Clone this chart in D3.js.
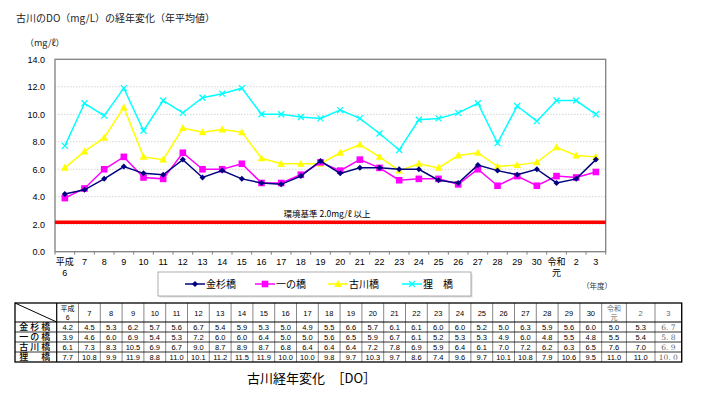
<!DOCTYPE html>
<html><head><meta charset="utf-8">
<script src="https://cdn.jsdelivr.net/npm/d3@7/dist/d3.min.js"></script>
<style>body{margin:0;background:#fff}svg{display:block}</style>
</head><body>
<svg id="c" width="701" height="399"></svg>
<script>
const years = ["平成\n6","7","8","9","10","11","12","13","14","15","16","17","18","19","20","21","22","23","24","25","26","27","28","29","30","令和\n元","2","3"];
const kanasugi = [4.2,4.5,5.3,6.2,5.7,5.6,6.7,5.4,5.9,5.3,5.0,4.9,5.5,6.6,5.7,6.1,6.1,6.0,6.0,5.2,5.0,6.3,5.9,5.6,6.0,5.0,5.3,6.7];
const ichinohashi = [3.9,4.6,6.0,6.9,5.4,5.3,7.2,6.0,6.0,6.4,5.0,5.0,5.6,6.5,5.9,6.7,6.1,5.2,5.3,5.3,4.9,6.0,4.8,5.5,4.8,5.5,5.4,5.8];
const furukawa = [6.1,7.3,8.3,10.5,6.9,6.7,9.0,8.7,8.9,8.7,6.8,6.4,6.4,6.4,7.2,7.8,6.9,5.9,6.4,6.1,7.0,7.2,6.2,6.3,6.5,7.6,7.0,6.9];
const tanuki = [7.7,10.8,9.9,11.9,8.8,11.0,10.1,11.2,11.5,11.9,10.0,10.0,9.8,9.7,10.3,9.7,8.6,7.4,9.6,9.7,10.1,10.8,7.9,10.6,9.5,11.0,11.0,10.0];
const seriesNames = ["金杉橋","一の橋","古川橋","狸　橋"];
const yTicks = [0,2,4,6,8,10,12,14];
const standardValue = 2.15;
const standardLabel = "環境基準  2.0mg/ℓ  以上";

const series = [
  {name:seriesNames[0], values:kanasugi, color:"#000080", sym:"diamond"},
  {name:seriesNames[1], values:ichinohashi, color:"#ff00ff", sym:"square"},
  {name:seriesNames[2], values:furukawa, color:"#ffff00", sym:"triangle"},
  {name:seriesNames[3], values:tanuki, color:"#00ffff", sym:"x"}
];

const svg = d3.select("#c");
const FONT = "'Liberation Sans', Arial, 'Noto Sans CJK JP', sans-serif";
const JP = "'Noto Sans CJK JP', sans-serif";

const L=55, R=605.7, T=59.3, B=251.7;
const x = d3.scalePoint().domain(d3.range(years.length)).range([L,R]).padding(0.5);
const y = d3.scaleLinear().domain([0,14]).range([B,T]);
const step = x.step();

// title
svg.append("text").attr("x",16).attr("y",22).attr("font-family",JP).attr("font-size",10).attr("fill","#222")
  .text("古川のDO（mg/L）の経年変化（年平均値）");
svg.append("text").attr("x",25).attr("y",46).attr("font-family",JP).attr("font-size",9).attr("fill","#222")
  .text("（mg/ℓ）");

// grid
svg.append("g").selectAll("line").data(yTicks.filter(d=>d>0&&d<14)).join("line")
  .attr("x1",L).attr("x2",R).attr("y1",d=>y(d)).attr("y2",d=>y(d))
  .attr("stroke","#c8c8c8").attr("stroke-width",0.8).attr("stroke-dasharray","1.5,1.5");

// y axis labels
const yAxis = d3.axisLeft(y).tickValues(yTicks).tickFormat(d3.format(".1f")).tickSize(0).tickPadding(10);
const gy = svg.append("g").attr("transform",`translate(${L},0)`).call(yAxis);
gy.select(".domain").remove();
gy.selectAll("text").attr("font-family",FONT).attr("font-size",9).attr("fill","#000");

// plot frame
svg.append("rect").attr("x",L).attr("y",T).attr("width",R-L).attr("height",B-T)
  .attr("fill","none").attr("stroke","#808080").attr("stroke-width",1.3);

// x ticks
svg.append("g").selectAll("line").data(d3.range(years.length+1)).join("line")
  .attr("x1",i=>L+i*step).attr("x2",i=>L+i*step).attr("y1",B).attr("y2",B+3)
  .attr("stroke","#808080");
const xl = svg.append("g").selectAll("text").data(years).join("text")
  .attr("x",(d,i)=>x(i)).attr("y",265).attr("text-anchor","middle")
  .attr("font-family",FONT).attr("font-size",9).attr("fill","#000");
xl.each(function(d){
  const parts=d.split("\n"); const t=d3.select(this);
  parts.forEach((p,k)=>t.append("tspan").attr("x",t.attr("x")).attr("dy",k?11:0).text(p));
});
svg.append("text").attr("x",597).attr("y",289).attr("text-anchor","middle").attr("font-family",JP)
  .attr("font-size",7.5).attr("fill","#333").text("（年度）");

// standard line
svg.append("line").attr("x1",L).attr("x2",R).attr("y1",y(standardValue)).attr("y2",y(standardValue))
  .attr("stroke","#ff0000").attr("stroke-width",3.5);
svg.append("text").attr("x",327).attr("y",y(standardValue)-5).attr("text-anchor","middle")
  .attr("font-family",JP).attr("font-size",8.5).attr("fill","#000").text(standardLabel);

function marker(g, sym, color, cx, cy){
  if(sym==="diamond"){
    g.append("path").attr("d",`M${cx},${cy-3}L${cx+3},${cy}L${cx},${cy+3}L${cx-3},${cy}Z`).attr("fill",color);
  } else if(sym==="square"){
    g.append("rect").attr("x",cx-3.3).attr("y",cy-3.3).attr("width",6.6).attr("height",6.6).attr("fill",color);
  } else if(sym==="triangle"){
    g.append("path").attr("d",`M${cx},${cy-4}L${cx+3.8},${cy+3}L${cx-3.8},${cy+3}Z`).attr("fill",color);
  } else {
    g.append("path").attr("d",`M${cx-3},${cy-3}L${cx+3},${cy+3}M${cx-3},${cy+3}L${cx+3},${cy-3}`)
      .attr("stroke",color).attr("stroke-width",1.3);
  }
}

const line = d3.line().x((d,i)=>x(i)).y(d=>y(d));
[3,2,1,0].forEach(k=>{
  const s=series[k];
  const g=svg.append("g");
  g.append("path").attr("d",line(s.values)).attr("fill","none").attr("stroke",s.color).attr("stroke-width",1.5);
  s.values.forEach((v,i)=>marker(g,s.sym,s.color,x(i),y(v)));
});

// legend
svg.append("rect").attr("x",159.5).attr("y",273.5).attr("width",313).attr("height",24).attr("fill","#ddd");
svg.append("rect").attr("x",158).attr("y",272).attr("width",313).attr("height",24).attr("fill","#fff")
  .attr("stroke","#999").attr("stroke-width",0.8);
const legX=[195,265,338,412];
series.forEach((s,k)=>{
  const g=svg.append("g");
  const cx=legX[k], cy=284;
  g.append("line").attr("x1",cx-10).attr("x2",cx+10).attr("y1",cy).attr("y2",cy).attr("stroke",s.color).attr("stroke-width",1.5);
  marker(g,s.sym,s.color,cx,cy);
  g.append("text").attr("x",cx+11).attr("y",cy+4).attr("font-family",JP).attr("font-size",10).attr("fill","#000").text(s.name);
});

// table
const tblTop=303, hdrB=322, rowH=10, tblL=15, labW=41.7;
const colW = years.map((d,i)=> i<25 ? 21.8 : [24.7,28.6,26.7][i-25]);
const colX = [tblL+labW]; colW.forEach(w=>colX.push(colX[colX.length-1]+w));
const tblR = colX[colX.length-1];
const tblB = hdrB+rowH*4;
const tg = svg.append("g");
// header texts
years.forEach((d,i)=>{
  const cx=(colX[i]+colX[i+1])/2;
  const gray = i>=25;
  const parts=d.split("\n");
  const t=tg.append("text").attr("x",cx).attr("text-anchor","middle").attr("font-family",FONT)
    .attr("font-size",parts.length>1?7:7.5).attr("fill",gray?"#666":"#000");
  if(parts.length>1){
    t.attr("y",311);
    parts.forEach((p,k)=>t.append("tspan").attr("x",cx).attr("dy",k?9:0).text(p));
  } else t.attr("y",315.5).text(d);
});
// cells
series.forEach((s,r)=>{
  const cy=hdrB+r*rowH+rowH/2;
  tg.append("text").attr("x",tblL+labW/2).attr("y",cy+3.3).attr("text-anchor","middle")
    .attr("font-family",JP).attr("font-size",9).attr("font-weight",500).attr("fill","#000")
    .attr("letter-spacing",2).text(s.name);
  s.values.forEach((v,i)=>{
    const last = i===years.length-1;
    tg.append("text").attr("x",(colX[i]+colX[i+1])/2).attr("y",cy+3)
      .attr("text-anchor","middle").attr("font-family",last?"'DejaVu Serif', serif":FONT)
      .attr("font-size",7.5).attr("fill",last?"#666":"#000")
      .text(last ? d3.format(".1f")(v).replace(".", ". ") : d3.format(".1f")(v));
  });
});
// grid lines
colX.forEach((cx,i)=>{
  tg.append("line").attr("x1",cx).attr("x2",cx).attr("y1",tblTop).attr("y2",tblB)
    .attr("stroke",i===0?"#000":"#555").attr("stroke-width",i===0?1.2:0.7);
});
[hdrB,hdrB+rowH,hdrB+2*rowH,hdrB+3*rowH].forEach((ry,k)=>{
  tg.append("line").attr("x1",tblL).attr("x2",tblR).attr("y1",ry).attr("y2",ry)
    .attr("stroke","#000").attr("stroke-width",k===0?1.2:0.8);
});
tg.append("rect").attr("x",tblL).attr("y",tblTop).attr("width",tblR-tblL).attr("height",tblB-tblTop)
  .attr("fill","none").attr("stroke","#000").attr("stroke-width",1.3);
tg.append("line").attr("x1",tblL).attr("y1",tblTop).attr("x2",tblL+labW).attr("y2",hdrB).attr("stroke","#000").attr("stroke-width",1);

// bottom title
svg.append("text").attr("x",247).attr("y",383).attr("font-family",JP).attr("font-size",13).attr("fill","#000")
  .text("古川経年変化　［DO］");
</script>
</body></html>
